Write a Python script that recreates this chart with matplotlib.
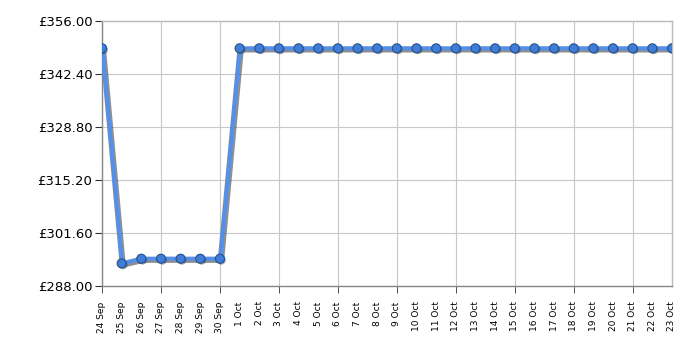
import matplotlib
matplotlib.use("Agg")
import matplotlib.pyplot as plt
import matplotlib.patheffects as pe

dates = ["24 Sep", "25 Sep", "26 Sep", "27 Sep", "28 Sep", "29 Sep", "30 Sep"] + \
        [f"{d} Oct" for d in range(1, 24)]
prices = [348.99, 293.80, 295.00, 295.00, 295.00, 295.00, 295.00] + [348.99] * 23
yticks = [288.00, 301.60, 315.20, 328.80, 342.40, 356.00]

fig = plt.figure(figsize=(7, 3.5), dpi=100)
ax = fig.add_axes([102/700, 1 - 286/350, 570/700, 265/350])

x = list(range(len(dates)))
shadow = [pe.SimpleLineShadow(offset=(1.5, -1.5), shadow_color="#444444", alpha=0.6), pe.Normal()]
ax.plot(x, prices, color="#5590e6", lw=3, zorder=3, path_effects=shadow)
ax.plot(x, prices, ls="none", zorder=4,
        marker="o", markersize=6.5, markerfacecolor="#3f7dd8", markeredgecolor="#24528f",
        markeredgewidth=0.8,
        path_effects=[pe.SimplePatchShadow(offset=(1, -1), shadow_rgbFace="#444444", alpha=0.5), pe.Normal()])

ax.set_xlim(0, len(dates) - 1)
ax.set_ylim(288, 356)
ax.set_yticks(yticks)
ax.set_yticklabels([f"£{v:.2f}" for v in yticks], fontsize=9.5, family="DejaVu Sans")
ax.set_xticks(x)
ax.set_xticklabels(dates, rotation=90, fontsize=6.5, va="top", ha="center")
ax.xaxis.remove_overlapping_locs = False
ax.set_xticks(x[::3], minor=True)
ax.tick_params(axis="x", which="major", length=0, pad=11)
ax.tick_params(axis="x", which="minor", length=5, color="#333333", direction="out")
ax.tick_params(axis="y", length=5, color="#333333", direction="out", pad=2)

ax.grid(True, which="minor", axis="x", color="#c8c8c8", lw=0.8)
ax.grid(False, which="major", axis="x")
ax.grid(True, which="major", axis="y", color="#c8c8c8", lw=0.8)
ax.set_axisbelow(True)
for s in ["left", "bottom"]:
    ax.spines[s].set_color("#888888")
for s in ["top", "right"]:
    ax.spines[s].set_color("#bbbbbb")
for sp in ax.spines.values():
    sp.set_linewidth(1)

fig.savefig("out.png", dpi=100)
